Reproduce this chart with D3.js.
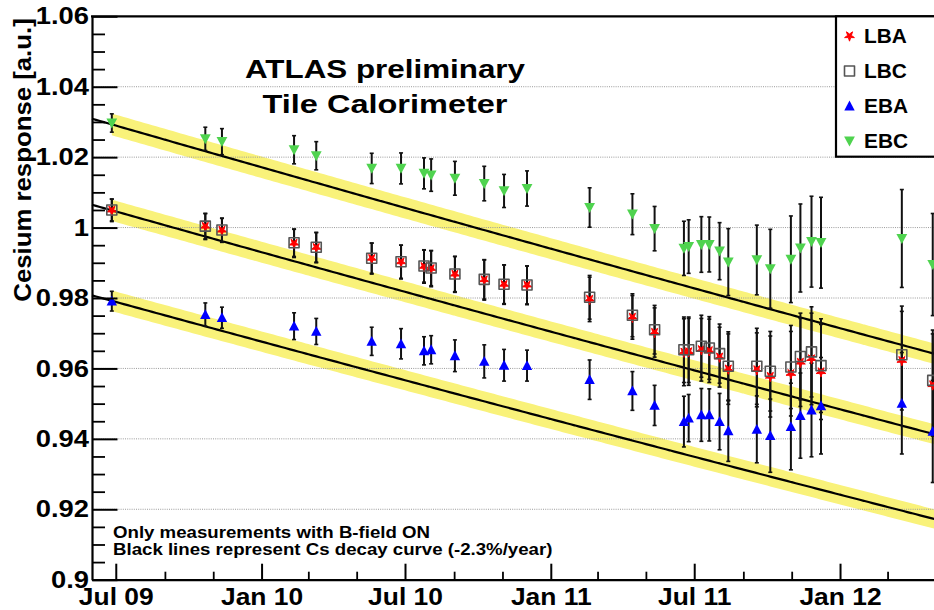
<!DOCTYPE html>
<html>
<head>
<meta charset="utf-8">
<script src="https://cdn.jsdelivr.net/npm/d3@7"></script>
<style>
  body { margin: 0; background: #fff; }
  svg { display: block; }
  text { font-family: "Liberation Sans", Arial, Helvetica, sans-serif; font-weight: bold; fill: #000; }
</style>
</head>
<body>
<svg id="chart" width="934" height="610"></svg>
<script>
// ---- measurement dates (Cs source scans with B-field ON) ----
const scanDates = [
  "2009-06-26", "2009-10-22", "2009-11-12", "2010-02-11", "2010-03-11",
  "2010-05-20", "2010-06-26", "2010-07-25", "2010-08-03", "2010-09-02",
  "2010-10-09", "2010-11-03", "2010-12-02", "2011-02-19", "2011-04-14",
  "2011-05-12", "2011-06-18", "2011-06-24", "2011-07-10", "2011-07-20",
  "2011-08-02", "2011-08-13", "2011-09-18", "2011-10-05", "2011-10-31",
  "2011-11-12", "2011-11-26", "2011-12-08", "2012-03-19", "2012-04-27"
];

// ---- partition names ----
const partitions = ["LBA", "LBC", "EBA", "EBC"];

// ---- Cs response per partition ----
const lbaValues = [
  1.0049, 1.0003, 0.9992, 0.9955, 0.9943, 0.9912, 0.9902, 0.9889, 0.9883, 0.9867,
  0.9851, 0.9838, 0.9836, 0.9796, 0.9745, 0.9702, 0.9646, 0.9647, 0.9653, 0.9650,
  0.9632, 0.9598, 0.9596, 0.9577, 0.9585, 0.9617, 0.9627, 0.9590, 0.9622, 0.9553
];
const lbaErrors = [
  0.0032, 0.0037, 0.0034, 0.0040, 0.0043, 0.0044, 0.0048, 0.0047, 0.0051, 0.0051,
  0.0057, 0.0056, 0.0055, 0.0063, 0.0062, 0.0070, 0.0095, 0.0095, 0.0089, 0.0090,
  0.0085, 0.0100, 0.0105, 0.0115, 0.0120, 0.0125, 0.0130, 0.0135, 0.0140, 0.0145
];
const lbcValues = [
  1.0050, 1.0004, 0.9993, 0.9957, 0.9944, 0.9913, 0.9903, 0.9891, 0.9885, 0.9868,
  0.9853, 0.9839, 0.9837, 0.9802, 0.9751, 0.9710, 0.9653, 0.9653, 0.9663, 0.9658,
  0.9642, 0.9606, 0.9606, 0.9592, 0.9604, 0.9634, 0.9647, 0.9608, 0.9639, 0.9566
];
const lbcErrors = [
  0.0031, 0.0036, 0.0034, 0.0039, 0.0042, 0.0043, 0.0047, 0.0046, 0.0050, 0.0050,
  0.0056, 0.0055, 0.0054, 0.0062, 0.0061, 0.0069, 0.0093, 0.0093, 0.0088, 0.0089,
  0.0084, 0.0098, 0.0108, 0.0113, 0.0118, 0.0123, 0.0128, 0.0133, 0.0138, 0.0143
];
const ebaValues = [
  0.9791, 0.9753, 0.9744, 0.9720, 0.9705, 0.9677, 0.9670, 0.9650, 0.9653, 0.9636,
  0.9620, 0.9609, 0.9608, 0.9568, 0.9536, 0.9495, 0.9449, 0.9459, 0.9468, 0.9468,
  0.9449, 0.9423, 0.9427, 0.9409, 0.9435, 0.9466, 0.9482, 0.9494, 0.9501, 0.9421
];
const ebaErrors = [
  0.0028, 0.0033, 0.0030, 0.0038, 0.0037, 0.0040, 0.0043, 0.0040, 0.0040, 0.0045,
  0.0047, 0.0045, 0.0044, 0.0056, 0.0055, 0.0057, 0.0072, 0.0067, 0.0075, 0.0074,
  0.0080, 0.0087, 0.0095, 0.0104, 0.0123, 0.0121, 0.0133, 0.0137, 0.0144, 0.0145
];
const ebcValues = [
  1.0297, 1.0252, 1.0244, 1.0221, 1.0204, 1.0168, 1.0168, 1.0154, 1.0149, 1.0140,
  1.0125, 1.0104, 1.0111, 1.0057, 1.0038, 0.9997, 0.9941, 0.9946, 0.9952, 0.9952,
  0.9933, 0.9902, 0.9908, 0.9883, 0.9910, 0.9942, 0.9960, 0.9957, 0.9969, 0.9895
];
const ebcErrors = [
  0.0026, 0.0033, 0.0037, 0.0040, 0.0040, 0.0043, 0.0044, 0.0044, 0.0046, 0.0048,
  0.0049, 0.0047, 0.0050, 0.0056, 0.0058, 0.0063, 0.0077, 0.0076, 0.0079, 0.0078,
  0.0081, 0.0095, 0.0099, 0.0112, 0.0123, 0.0125, 0.0129, 0.0129, 0.0139, 0.0145
];

// ---- Cs-137 decay reference curves ----
const decayRatePerYear = 0.023;          // -2.3%/year
const decayStartDate = "2009-06-26";
const decayNorms = [1.0293, 1.0049, 0.9792];
const bandFraction = 0.003;              // half-width of the yellow band

// ---- axis ticks ----
const yTickValues = [0.90, 0.92, 0.94, 0.96, 0.98, 1.00, 1.02, 1.04, 1.06];
const yTickLabels = ["0.9", "0.92", "0.94", "0.96", "0.98", "1", "1.02", "1.04", "1.06"];
const xTickDates = ["2009-07-01", "2010-01-01", "2010-07-01", "2011-01-01", "2011-07-01", "2012-01-01"];
const xTickLabels = ["Jul 09", "Jan 10", "Jul 10", "Jan 11", "Jul 11", "Jan 12"];

const titleLines = ["ATLAS preliminary", "Tile Calorimeter"];
const noteLines = ["Only measurements with B-field ON", "Black lines represent Cs decay curve (-2.3%/year)"];
const yAxisTitle = "Cesium response [a.u.]";

// ---------------------------------------------------------------
const parse = d3.utcParse("%Y-%m-%d");
const svg = d3.select("#chart");

const frame = { left: 92, top: 16.3, bottom: 579.7, right: 947 };

const x = d3.scaleUtc()
  .domain([parse("2009-06-01"), parse("2012-05-15")])
  .range([frame.left, frame.right]);
const y = d3.scaleLinear()
  .domain([0.9, 1.06])
  .range([frame.bottom, frame.top]);

const dates = scanDates.map(parse);
const series = [
  { name: "LBA", values: lbaValues, errors: lbaErrors },
  { name: "LBC", values: lbcValues, errors: lbcErrors },
  { name: "EBA", values: ebaValues, errors: ebaErrors },
  { name: "EBC", values: ebcValues, errors: ebcErrors }
];

// stretch text horizontally to the wide Helvetica look
function widen(sel, k) {
  sel.each(function () {
    const w = this.getComputedTextLength();
    this.setAttribute("textLength", w * k);
    this.setAttribute("lengthAdjust", "spacingAndGlyphs");
  });
}

// ---- marker shapes ----
const markerPath = {
  LBA: d3.symbol().type(d3.symbolStar).size(30)(),
  LBC: "M-5,-5H5V5H-5Z",
  EBA: "M0,-5.4L5.2,4.4L-5.2,4.4Z",
  EBC: "M0,5.4L5.4,-4.6L-5.4,-4.6Z"
};
const markerStyle = {
  LBA: { fill: "#ff0000", stroke: "#ff0000", sw: 1, rot: 180 },
  LBC: { fill: "none", stroke: "#555", sw: 1.6, rot: 0 },
  EBA: { fill: "#0000ff", stroke: "none", sw: 0, rot: 0 },
  EBC: { fill: "#4fd34f", stroke: "none", sw: 0, rot: 0 }
};

// ---- decay bands and lines ----
const yearMs = 365.25 * 24 * 3600 * 1000;
const t0 = parse(decayStartDate);
const decayAt = (norm, t) => norm * Math.exp(-decayRatePerYear * (t - t0) / yearMs);

const lineDates = d3.utcDay.every(5).range(x.domain()[0], d3.utcDay.offset(x.domain()[1], 1));
const bandDates = lineDates.filter(d => d >= t0);
bandDates.unshift(t0);

const bandArea = d3.area()
  .x(d => x(d.t))
  .y0(d => y(d.v * (1 - bandFraction)))
  .y1(d => y(d.v * (1 + bandFraction)));
const decayLine = d3.line().x(d => x(d.t)).y(d => y(d.v));

const gBands = svg.append("g");
decayNorms.forEach(n => {
  gBands.append("path")
    .attr("d", bandArea(bandDates.map(t => ({ t, v: decayAt(n, t) }))))
    .attr("fill", "#f9f27a");
});

// ---- horizontal dotted grid ----
svg.append("g").selectAll("line")
  .data(yTickValues.slice(1, -1))
  .join("line")
  .attr("x1", frame.left).attr("x2", frame.right)
  .attr("y1", d => y(d)).attr("y2", d => y(d))
  .attr("stroke", "#9a9a9a").attr("stroke-width", 1)
  .attr("stroke-dasharray", "1,1.2");

const gLines = svg.append("g");
decayNorms.forEach(n => {
  gLines.append("path")
    .attr("d", decayLine(lineDates.map(t => ({ t, v: decayAt(n, t) }))))
    .attr("fill", "none").attr("stroke", "#000").attr("stroke-width", 2.2);
});

// ---- error bars ----
const gErr = svg.append("g").attr("stroke", "#111");
series.forEach(s => {
  s.values.forEach((v, i) => {
    const cx = x(dates[i]);
    const yTop = y(v + s.errors[i]), yBot = y(v - s.errors[i]);
    gErr.append("line").attr("x1", cx).attr("x2", cx).attr("y1", yTop).attr("y2", yBot)
      .attr("stroke-width", 2);
    [yTop, yBot].forEach(yy => gErr.append("line")
      .attr("x1", cx - 2).attr("x2", cx + 2).attr("y1", yy).attr("y2", yy)
      .attr("stroke-width", 1.6));
  });
});

// ---- markers ----
function drawMarker(g, name, cx, cy) {
  const st = markerStyle[name];
  g.append("path")
    .attr("d", markerPath[name])
    .attr("transform", `translate(${cx},${cy}) rotate(${st.rot})`)
    .attr("fill", st.fill)
    .attr("stroke", st.stroke)
    .attr("stroke-width", st.sw)
    .attr("stroke-linejoin", "round");
}
const gMarks = svg.append("g");
["LBA", "LBC", "EBA", "EBC"].forEach(name => {
  const s = series.find(d => d.name === name);
  s.values.forEach((v, i) => drawMarker(gMarks, name, x(dates[i]), y(v)));
});

// ---- axes ----
const yMajor = d3.axisLeft(y)
  .tickValues(yTickValues)
  .tickSize(-25.5)
  .tickSizeOuter(0)
  .tickPadding(3)
  .tickFormat((d, i) => yTickLabels[i]);
const gy = svg.append("g").attr("transform", `translate(${frame.left},0)`).call(yMajor);
gy.select(".domain").attr("stroke-width", 2.2);
gy.selectAll(".tick line").attr("stroke-width", 2);
gy.selectAll(".tick text").attr("font-size", 24).attr("font-family", null);
widen(gy.selectAll(".tick text"), 1.14);

const yMinorVals = d3.range(0.905, 1.06, 0.005).filter(v => Math.abs(v * 50 - Math.round(v * 50)) > 1e-6);
const yMinor = d3.axisLeft(y).tickValues(yMinorVals).tickSize(-13).tickSizeOuter(0).tickFormat("");
const gy2 = svg.append("g").attr("transform", `translate(${frame.left},0)`).call(yMinor);
gy2.select(".domain").remove();
gy2.selectAll(".tick line").attr("stroke-width", 1.8);

const xMajorDates = xTickDates.map(parse);
const xMajor = d3.axisBottom(x)
  .tickValues(xMajorDates)
  .tickSize(-16)
  .tickSizeOuter(0)
  .tickPadding(8.5)
  .tickFormat((d, i) => xTickLabels[i]);
const gx = svg.append("g").attr("transform", `translate(0,${frame.bottom})`).call(xMajor);
gx.select(".domain").attr("stroke-width", 2.2);
gx.selectAll(".tick line").attr("stroke-width", 2);
gx.selectAll(".tick text").attr("font-size", 24).attr("font-family", null);
widen(gx.selectAll(".tick text"), 1.1);

const xMinorDates = d3.utcMonth.every(2).range(x.domain()[0], x.domain()[1])
  .filter(d => d.getUTCMonth() !== 0 && d.getUTCMonth() !== 6);
const xMinor = d3.axisBottom(x).tickValues(xMinorDates).tickSize(-8).tickSizeOuter(0).tickFormat("");
const gx2 = svg.append("g").attr("transform", `translate(0,${frame.bottom})`).call(xMinor);
gx2.select(".domain").remove();
gx2.selectAll(".tick line").attr("stroke-width", 1.8);

// top frame line
svg.append("line")
  .attr("x1", frame.left - 1).attr("x2", frame.right)
  .attr("y1", frame.top).attr("y2", frame.top)
  .attr("stroke", "#000").attr("stroke-width", 2.2);

// ---- axis title ----
const yt = svg.append("text")
  .attr("transform", "translate(31,160) rotate(-90)")
  .attr("text-anchor", "middle")
  .attr("font-size", 23)
  .text(yAxisTitle);
widen(yt, 1.12);

// ---- title ----
const titleWidths = [280, 245];
svg.append("g").selectAll("text")
  .data(titleLines)
  .join("text")
  .attr("x", 385)
  .attr("y", (d, i) => 77.5 + i * 35)
  .attr("text-anchor", "middle")
  .attr("font-size", 26.5)
  .attr("textLength", (d, i) => titleWidths[i])
  .attr("lengthAdjust", "spacingAndGlyphs")
  .text(d => d);

// ---- notes ----
const nt = svg.append("g").selectAll("text")
  .data(noteLines)
  .join("text")
  .attr("x", 113)
  .attr("y", (d, i) => 537.5 + i * 17.5)
  .attr("font-size", 16.5)
  .text(d => d);
widen(nt, 1.13);

// ---- legend ----
const lg = svg.append("g");
lg.append("rect")
  .attr("x", 836).attr("y", frame.top)
  .attr("width", 140).attr("height", 156.7 - frame.top)
  .attr("fill", "#fff").attr("stroke", "#000").attr("stroke-width", 2.2);
partitions.forEach((name, i) => {
  const cy = 36 + i * 35;
  drawMarker(lg, name, 849.5, cy);
  const t = lg.append("text")
    .attr("x", 864).attr("y", cy + 7)
    .attr("font-size", 19.5)
    .text(name);
  widen(t, 1.07);
});
</script>
</body>
</html>
